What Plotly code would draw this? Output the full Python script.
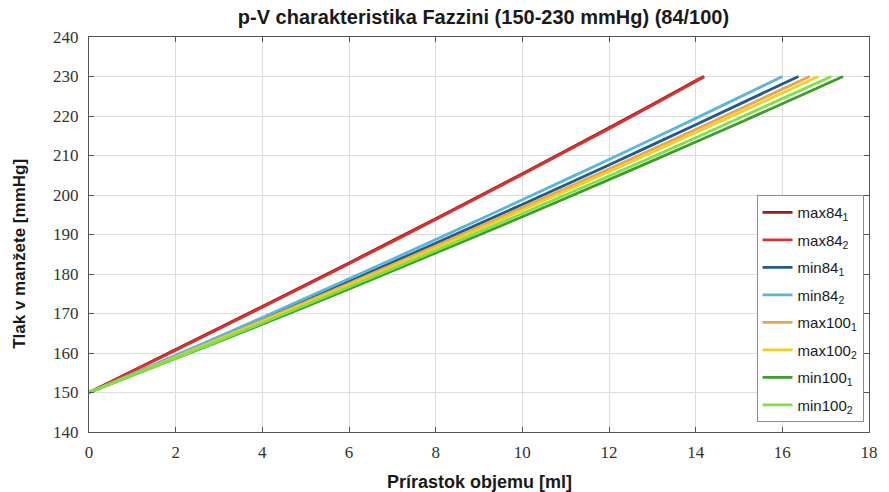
import plotly.graph_objects as go

# Volume increments [ml] and cuff pressures [mmHg] for each measurement run
x_max84_1 = [0, 2, 4, 6, 8, 10, 12, 14, 14.18]
y_max84_1 = [150, 160.9, 171.8, 182.8, 194.0, 205.4, 217.0, 228.9, 230]
x_max84_2 = [0, 2, 4, 6, 8, 10, 12, 14, 14.2]
y_max84_2 = [150, 160.7, 171.6, 182.6, 193.8, 205.2, 216.8, 228.7, 230]
x_min84_1 = [0, 2, 4, 6, 8, 10, 12, 14, 16, 16.37]
y_min84_1 = [150, 159.2, 168.6, 178.1, 187.8, 197.6, 207.6, 217.8, 228.1, 230]
x_min84_2 = [0, 2, 4, 6, 8, 10, 12, 14, 16.0]
y_min84_2 = [150, 159.4, 169.0, 178.8, 188.7, 198.8, 209.0, 219.4, 230]
x_max100_1 = [0, 2, 4, 6, 8, 10, 12, 14, 16, 16.63]
y_max100_1 = [150, 159.0, 168.2, 177.6, 187.1, 196.8, 206.6, 216.6, 226.8, 230]
x_max100_2 = [0, 2, 4, 6, 8, 10, 12, 14, 16, 16.83]
y_max100_2 = [150, 158.9, 168.0, 177.2, 186.6, 196.2, 205.9, 215.8, 225.8, 230]
x_min100_1 = [0, 2, 4, 6, 8, 10, 12, 14, 16, 17.4]
y_min100_1 = [150, 158.6, 167.3, 176.2, 185.3, 194.5, 203.9, 213.4, 223.1, 230]
x_min100_2 = [0, 2, 4, 6, 8, 10, 12, 14, 16, 17.13]
y_min100_2 = [150, 158.7, 167.6, 176.7, 185.9, 195.3, 204.8, 214.5, 224.4, 230]

names = ["max84<sub>1</sub>", "max84<sub>2</sub>", "min84<sub>1</sub>", "min84<sub>2</sub>",
         "max100<sub>1</sub>", "max100<sub>2</sub>", "min100<sub>1</sub>", "min100<sub>2</sub>"]
colors = ["#9e1b1b", "#d63232", "#1f5c8c", "#5bb6da",
          "#e8a650", "#f2cf22", "#3c9e2a", "#80e04a"]
xs = [x_max84_1, x_max84_2, x_min84_1, x_min84_2, x_max100_1, x_max100_2, x_min100_1, x_min100_2]
ys = [y_max84_1, y_max84_2, y_min84_1, y_min84_2, y_max100_1, y_max100_2, y_min100_1, y_min100_2]

x_ticks = [0, 2, 4, 6, 8, 10, 12, 14, 16, 18]
y_ticks = [140, 150, 160, 170, 180, 190, 200, 210, 220, 230, 240]

SERIF = "Liberation Serif, Times New Roman, Times, serif"
SANS = "Liberation Sans, Arial, Helvetica, sans-serif"

fig = go.Figure()
for i, (name, col, xv, yv) in enumerate(zip(names, colors, xs, ys)):
    fig.add_trace(go.Scatter(x=xv, y=yv, mode="lines", name=name, legendgroup=f"g{i}",
                             line=dict(color=col, width=2.8, shape="spline", smoothing=0.6)))

axis_common = dict(
    showline=True, linecolor="#555555", linewidth=1, mirror="ticks",
    ticks="inside", ticklen=5, tickcolor="#555555",
    showgrid=True, gridcolor="#dddddd", gridwidth=1, zeroline=False,
    tickfont=dict(family=SERIF, size=17, color="#333333"),
)

fig.update_layout(
    width=889, height=492,
    margin=dict(l=89, r=11, t=37, b=60),
    paper_bgcolor="white", plot_bgcolor="white",
    showlegend=True,
    font=dict(family=SANS),
    title=dict(text="<b>p-V charakteristika Fazzini (150-230 mmHg) (84/100)</b>",
               x=(89 + 878) / 2 / 889, xanchor="center", y=1 - 17 / 492, yanchor="middle",
               font=dict(family=SANS, size=20, color="#1a1a1a")),
    xaxis=dict(range=[0, 18], tickvals=x_ticks, ticklabelstandoff=5, **axis_common),
    yaxis=dict(range=[140, 240], tickvals=y_ticks, ticklabelstandoff=6, **axis_common),
    legend=dict(x=0.993, xanchor="right", y=0.025, yanchor="bottom",
                bgcolor="white", bordercolor="#8c8c8c", borderwidth=1,
                font=dict(family=SANS, size=15, color="#1a1a1a"),
                itemwidth=30, tracegroupgap=5),
    annotations=[
        dict(text="<b>Prírastok objemu [ml]</b>", xref="paper", yref="paper",
             x=0.5, y=-(482 - 432) / 395, xanchor="center", yanchor="middle", showarrow=False,
             font=dict(family=SANS, size=18, color="#1a1a1a")),
        dict(text="<b>Tlak v manžete [mmHg]</b>", xref="paper", yref="paper",
             x=-(89 - 18) / 789, y=(432 - 254) / 395, xanchor="center", yanchor="middle",
             textangle=-90, showarrow=False,
             font=dict(family=SANS, size=17, color="#1a1a1a")),
    ],
)

fig.write_html("out.html")
